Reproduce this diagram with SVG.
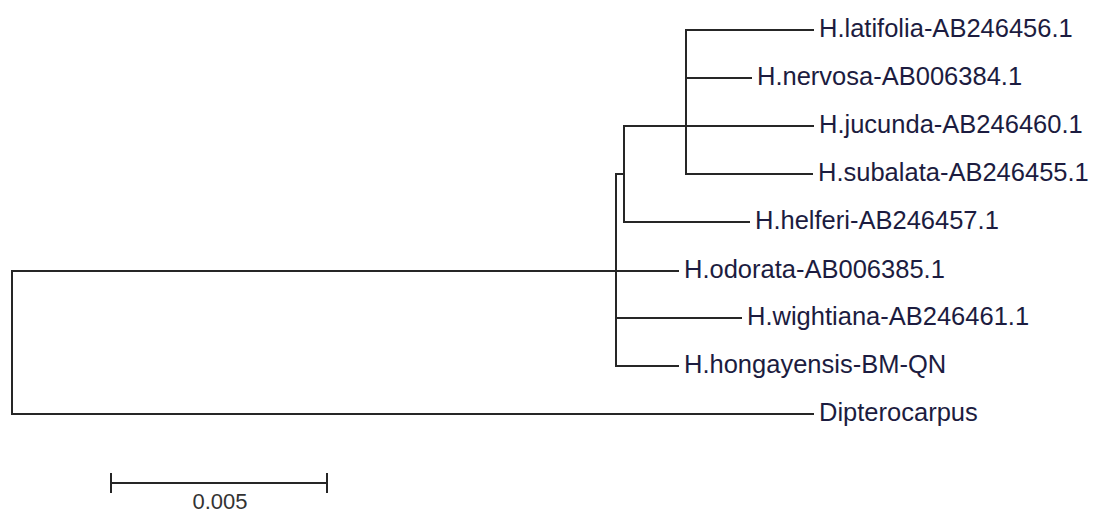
<svg xmlns="http://www.w3.org/2000/svg" width="1096" height="513" viewBox="0 0 1096 513">
<style>
.br{stroke:#262626;stroke-width:2;fill:none;stroke-linecap:square}
.lb{font-family:"Liberation Sans",Arial,sans-serif;font-size:25.5px;fill:#1c1c40}
.sc{font-family:"Liberation Sans",Arial,sans-serif;font-size:22px;fill:#333}
</style>
<rect width="1096" height="513" fill="#fff"/>
<g id="connectors">
<path class="br" d="M686 30V174M686 30H813M686 78H751M686 126H813M686 174H812"/>
<path class="br" d="M624 126V222M624 126H686M624 222H749"/>
<path class="br" d="M616 174V366M616 174H624M616 271H678M616 318H741M616 366H678"/>
<path class="br" d="M12 271V414M12 271H616M12 414H813"/>
</g>
<g id="n-latifolia"><text class="lb" x="819" y="37">H.latifolia-AB246456.1</text></g>
<g id="n-nervosa"><text class="lb" x="757" y="85">H.nervosa-AB006384.1</text></g>
<g id="n-jucunda"><text class="lb" x="819" y="133">H.jucunda-AB246460.1</text></g>
<g id="n-subalata"><text class="lb" x="818" y="181">H.subalata-AB246455.1</text></g>
<g id="n-helferi"><text class="lb" x="755" y="229">H.helferi-AB246457.1</text></g>
<g id="n-odorata"><text class="lb" x="684" y="278">H.odorata-AB006385.1</text></g>
<g id="n-wightiana"><text class="lb" x="747" y="325">H.wightiana-AB246461.1</text></g>
<g id="n-hongayensis"><text class="lb" x="684" y="373">H.hongayensis-BM-QN</text></g>
<g id="n-dipterocarpus"><text class="lb" x="819" y="421">Dipterocarpus</text></g>
<g id="scale">
<path class="br" d="M111 483H327M111 474V492M327 474V492"/>
<text class="sc" x="220" y="509" text-anchor="middle">0.005</text>
</g>
</svg>
